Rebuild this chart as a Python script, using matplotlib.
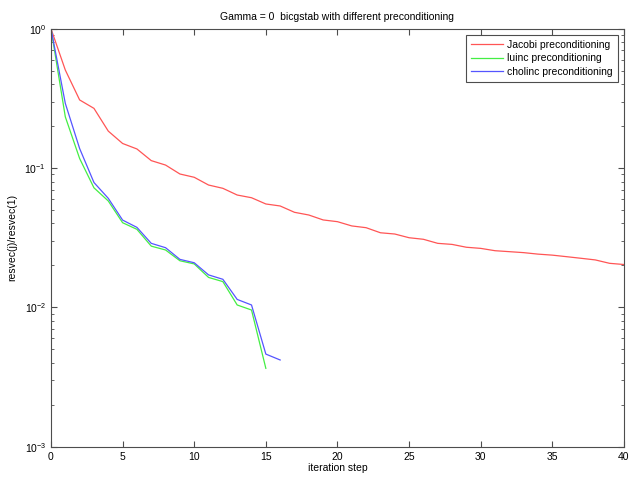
#!/usr/bin/env python
# -*- coding: utf-8 -*-
import numpy as np
import matplotlib
matplotlib.use("Agg")
import matplotlib.pyplot as plt
from matplotlib.ticker import LogLocator, NullFormatter

plt.rcParams['font.family'] = ['Liberation Sans', 'DejaVu Sans']
plt.rcParams['mathtext.default'] = 'regular'

# residual histories
jacobi = [1.0, 0.505, 0.308, 0.268, 0.184, 0.150, 0.137, 0.113, 0.105, 0.0906,
          0.0858, 0.0755, 0.0715, 0.0640, 0.0612, 0.0552, 0.0534, 0.0481, 0.0460, 0.0424,
          0.0412, 0.0384, 0.0373, 0.0343, 0.0336, 0.0316, 0.0308, 0.0288, 0.0283, 0.0270,
          0.0265, 0.0255, 0.0251, 0.0247, 0.0241, 0.0237, 0.0231, 0.0225, 0.0219, 0.0207,
          0.0203]
luinc = [1.0, 0.233, 0.117, 0.0721, 0.0580, 0.0405, 0.0363, 0.0275, 0.0258, 0.0216,
         0.0205, 0.0164, 0.0153, 0.0104, 0.00957, 0.00365]
cholinc = [1.0, 0.291, 0.138, 0.0787, 0.0606, 0.0423, 0.0375, 0.0288, 0.0268, 0.0221,
           0.0209, 0.0171, 0.0159, 0.0114, 0.0104, 0.00462, 0.00419]

labels = ["Jacobi preconditioning", "luinc preconditioning", "cholinc preconditioning"]
colors = ["#ff5555", "#44ee44", "#5555ff"]

fs = 7.5

fig = plt.figure(figsize=(6.31, 4.78), dpi=100)
ax = fig.add_axes([0.0808, 0.0655, 0.908, 0.8745])

for data, lab, col in zip([jacobi, luinc, cholinc], labels, colors):
    ax.semilogy(np.arange(len(data)), data, color=col, linewidth=0.9, label=lab)

ax.set_xlim(0, 40)
ax.set_ylim(1e-3, 1)
ax.set_xticks(np.arange(0, 41, 5))
ax.yaxis.set_major_locator(LogLocator(base=10, numticks=10))
ax.yaxis.set_minor_locator(LogLocator(base=10, subs=np.arange(2, 10), numticks=10))
ax.yaxis.set_minor_formatter(NullFormatter())

ax.tick_params(which='both', direction='in', top=True, right=True,
               labelsize=fs, color='0.3')
ax.tick_params(which='major', length=4)
ax.tick_params(which='minor', length=2)
for sp in ax.spines.values():
    sp.set_color('0.3')
    sp.set_linewidth(0.8)

ax.set_xlabel("iteration step", fontsize=fs, labelpad=1)
ax.set_ylabel("resvec(j)/resvec(1)", fontsize=fs, labelpad=5)
ax.set_title("Gamma = 0  bicgstab with different preconditioning", fontsize=fs, pad=6)

leg = ax.legend(loc='upper right', fontsize=fs, fancybox=False, framealpha=1,
                edgecolor='0.3', borderaxespad=0.6, handlelength=3.1,
                handletextpad=0.4, labelspacing=0.35, borderpad=0.45)
leg.get_frame().set_linewidth(0.8)

plt.savefig("out.png", dpi=100)
plt.close(fig)
